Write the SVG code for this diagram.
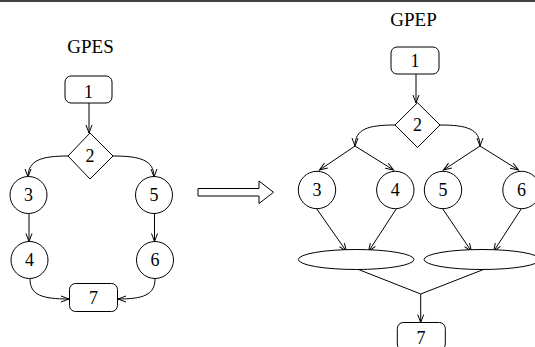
<svg xmlns="http://www.w3.org/2000/svg" width="535" height="347" viewBox="0 0 535 347">
  <style>
    .shape { fill: #fff; stroke: #000; stroke-width: 1; }
    .edge { fill: none; stroke: #000; stroke-width: 1; }
    .arr { marker-end: url(#vhead); }
    text { font-family: "Liberation Serif", "Times New Roman", serif; font-size: 18px; fill: #000; text-anchor: middle; }
    .title { font-size: 19px; }
  </style>
  <defs>
    <marker id="vhead" markerUnits="userSpaceOnUse" markerWidth="10" markerHeight="8" refX="8" refY="3" orient="auto" overflow="visible">
      <path d="M0,0 L8,3 L0,6" fill="none" stroke="#000" stroke-width="1"/>
    </marker>
  </defs>

  <rect width="535" height="347" fill="#fff"/>
  <line x1="0" y1="1" x2="535" y2="1" stroke="#000" stroke-width="1.6"/>

  <!-- sequential version -->
  <text class="title" x="90.5" y="53">GPES</text>

  <g id="connectors-gpes">
    <line class="edge arr" x1="89" y1="103" x2="89" y2="133"/>
    <path class="edge arr" d="M68,156 C42,156 28,160 28,177"/>
    <path class="edge arr" d="M113,156 C140,156 154,160 154,177"/>
    <line class="edge arr" x1="29" y1="214" x2="29" y2="241.5"/>
    <line class="edge arr" x1="154.5" y1="214" x2="154.5" y2="241.5"/>
    <path class="edge arr" d="M30,279 C30,295 42,299 69,299"/>
    <path class="edge arr" d="M155,279 C155,295 143,299 118,299"/>
  </g>

  <g id="s1"><rect class="shape" x="65" y="76" width="47" height="27" rx="6"/><text x="88.5" y="98">1</text></g>
  <g id="s2"><polygon class="shape" points="90,133 113,156 90,179 68,156"/><text x="90" y="162">2</text></g>
  <g id="s3"><circle class="shape" cx="28.5" cy="195" r="18.5"/><text x="28.5" y="201">3</text></g>
  <g id="s5"><circle class="shape" cx="154" cy="195" r="18.5"/><text x="154" y="201">5</text></g>
  <g id="s4"><circle class="shape" cx="29.5" cy="260" r="18.5"/><text x="29.5" y="266">4</text></g>
  <g id="s6"><circle class="shape" cx="155" cy="260" r="18.5"/><text x="155" y="266">6</text></g>
  <g id="s7"><rect class="shape" x="69.5" y="283.5" width="48" height="28" rx="6"/><text x="93.5" y="303.5">7</text></g>

  <!-- transformation arrow -->
  <polygon class="shape" points="198,188.5 259,188.5 259,181 273.5,192.3 259,203.5 259,196 198,196"/>

  <!-- parallel version -->
  <text class="title" x="413.5" y="25.7">GPEP</text>

  <g id="connectors-gpep">
    <line class="edge arr" x1="416" y1="74" x2="416" y2="103"/>
    <path class="edge arr" d="M395,125 C368,125 355,129 355,146"/>
    <path class="edge arr" d="M440,125 C467,125 480,129 480,146"/>
    <line class="edge arr" x1="355" y1="146" x2="319.5" y2="170"/>
    <line class="edge arr" x1="355" y1="146" x2="393.5" y2="170"/>
    <line class="edge arr" x1="480" y1="146" x2="443.5" y2="170"/>
    <line class="edge arr" x1="480" y1="146" x2="518.5" y2="170"/>
    <line class="edge arr" x1="316.5" y1="208.5" x2="346.5" y2="251.5"/>
    <line class="edge arr" x1="396.5" y1="208.5" x2="368.5" y2="251.5"/>
    <line class="edge arr" x1="442.5" y1="208.5" x2="471.5" y2="251.5"/>
    <line class="edge arr" x1="521.5" y1="208.5" x2="493.5" y2="251.5"/>
    <polyline class="edge" points="358.5,269.5 420.7,294 483.5,269.5"/>
    <line class="edge arr" x1="420.7" y1="294" x2="420.7" y2="322.5"/>
  </g>

  <g id="p1"><rect class="shape" x="391" y="47" width="48" height="27" rx="6"/><text x="415" y="66.5">1</text></g>
  <g id="p2"><polygon class="shape" points="417.5,102.7 440,125 417.5,147.5 395,125"/><text x="417.5" y="131">2</text></g>
  <g id="p3"><circle class="shape" cx="317" cy="190" r="18.7"/><text x="317" y="196">3</text></g>
  <g id="p4"><circle class="shape" cx="395.3" cy="190" r="18.7"/><text x="395.3" y="196">4</text></g>
  <g id="p5"><circle class="shape" cx="443" cy="190" r="18.7"/><text x="443" y="196">5</text></g>
  <g id="p6"><circle class="shape" cx="521.5" cy="190" r="18.7"/><text x="521.5" y="196">6</text></g>
  <g id="join-a"><ellipse class="shape" cx="356.2" cy="259.5" rx="57.8" ry="10"/></g>
  <g id="join-b"><ellipse class="shape" cx="482" cy="259.5" rx="58" ry="10"/></g>
  <g id="p7"><rect class="shape" x="397.3" y="322.5" width="48" height="27.5" rx="6"/><text x="421" y="344">7</text></g>
</svg>
